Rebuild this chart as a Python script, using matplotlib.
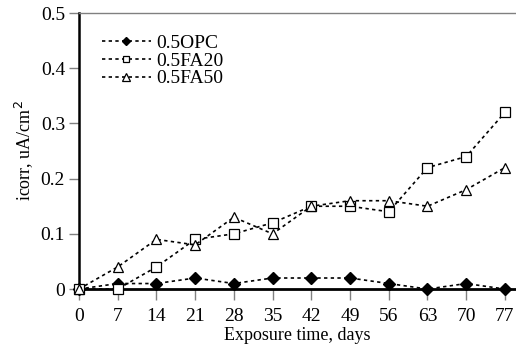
import matplotlib
matplotlib.use("Agg")
import matplotlib.pyplot as plt

# Exposure days and corrosion current density (uA/cm2)
days = [0, 7, 14, 21, 28, 35, 42, 49, 56, 63, 70, 77]
opc = [0, 0.01, 0.01, 0.02, 0.01, 0.02, 0.02, 0.02, 0.01, 0, 0.01, 0]
fa20 = [0, 0, 0.04, 0.09, 0.10, 0.12, 0.15, 0.15, 0.14, 0.22, 0.24, 0.32]
fa50 = [0, 0.04, 0.09, 0.08, 0.13, 0.10, 0.15, 0.16, 0.16, 0.15, 0.18, 0.22]
y_ticks = [0, 0.1, 0.2, 0.3, 0.4, 0.5]
y_labels = ["0", "0.1", "0.2", "0.3", "0.4", "0.5"]

plt.rcParams["font.family"] = ["Liberation Serif", "DejaVu Serif"]

fig = plt.figure(figsize=(5.16, 3.47), dpi=100)
ax = fig.add_axes([0.153, 0.167, 0.847, 0.7955])

dash = (0, (2, 2))
ax.plot(days, opc, ls=dash, color="black", lw=1.2, marker="D", ms=6,
        mfc="black", mec="black", label="0.5OPC", zorder=3, clip_on=False)
ax.plot(days, fa20, ls=dash, color="black", lw=1.2, marker="s", ms=6.5,
        mfc="white", mec="black", mew=0.9, label="0.5FA20", zorder=3,
        clip_on=False)
ax.plot(days, fa50, ls=dash, color="black", lw=1.2, marker="^", ms=7.5,
        mfc="white", mec="black", mew=0.9, label="0.5FA50", zorder=3,
        clip_on=False)

ax.set_xlim(0, 79)
ax.set_ylim(0, 0.5)
ax.set_xticks(days)
ax.set_yticks(y_ticks)
ax.set_yticklabels(y_labels)
ax.tick_params(axis="both", labelsize=14, color="#808080", length=7, width=1,
               direction="out")
ax.tick_params(axis="x", length=8, pad=6)
ax.tick_params(axis="y", pad=3)

ax.spines["left"].set_linewidth(1.8)
ax.spines["bottom"].set_linewidth(2)
ax.spines["top"].set_color("#808080")
ax.spines["top"].set_linewidth(1)
ax.spines["right"].set_visible(False)

ax.set_xlabel("Exposure time, days", fontsize=13)
ax.xaxis.set_label_coords(0.5, -0.168)
ax.xaxis.label.set_va("center")
ax.set_ylabel("icorr, uA/cm$^2$", fontsize=13)
ax.yaxis.set_label_coords(-0.126, 0.5)
ax.yaxis.label.set_va("center")

ax.legend(loc="upper left", frameon=False, fontsize=14, handlelength=2.5,
          handletextpad=0.3, labelspacing=0.0, borderaxespad=0,
          markerscale=0.75, bbox_to_anchor=(0.035, 0.95))

fig.savefig("out.png", dpi=100)
